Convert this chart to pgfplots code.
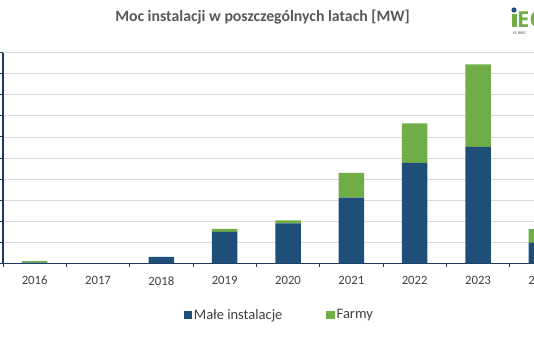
\documentclass[border=0pt]{standalone}
\usepackage{pgfplots}
\pgfplotsset{compat=1.18}
\usepackage{fontspec}
\setmainfont{Carlito}
\newfontfamily\logofont{Open Sans}
\definecolor{navy}{HTML}{1F4E79}
\definecolor{axnavy}{HTML}{1F3A5F}
\definecolor{grn}{HTML}{70AD47}
\definecolor{gridc}{HTML}{D9D9D9}
\definecolor{titc}{HTML}{595959}
\definecolor{labc}{HTML}{404040}
\pgfplotstableread{
idx male farmy
0 3 7
1 0 0
2 30 0
3 149 14
4 189 15
5 312 117
6 477 187
7 553 392
8 97 65
}\datatab
\begin{document}
\begin{tikzpicture}[x=1pt,y=1pt]
\path[use as bounding box, clip] (0,0) rectangle (534,351);
\fill[white] (0,0) rectangle (534,351);
\begin{axis}[
  at={(3pt,87.7pt)}, anchor=south west,
  scale only axis, width=570pt, height=210.6pt,
  ybar stacked, bar width=25.5pt,
  xmin=-0.5, xmax=8.5, ymin=0, ymax=1000,
  xtick={-0.5,0.5,...,8.5},
  x tick label as interval,
  xticklabels={2016,2017,2018,2019,2020,2021,2022,2023,2024},
  ytick={0,100,...,1000}, yticklabels={},
  ymajorgrids, grid style={gridc, line width=0.8pt},
  axis x line*=bottom, axis y line*=left,
  axis line style={axnavy, line width=1.6pt, -},
  tick style={axnavy, line width=0.9pt},
  tick align=outside, major tick length=3.5pt,
  x tick label style={font=\fontsize{12.7}{14}\selectfont, text=labc, yshift=-6pt},
  /pgf/number format/assume math mode=true,
  legend style={at={(0.4846,-0.2455)}, anchor=center, draw=none, fill=none,
    legend columns=2, font=\fontsize{14.5}{16}\selectfont, text=labc,
    /tikz/every even column/.append style={column sep=42pt}},
  legend image code/.code={\fill[#1] (0pt,-4.1pt) rectangle (8.3pt,4.1pt);},
  legend cell align=left,
]
\addplot[fill=navy, draw=none] table[x=idx,y=male]{\datatab};
\addplot[fill=grn, draw=none] table[x=idx,y=farmy]{\datatab};
\legend{Małe instalacje, Farmy}
\end{axis}
\node[text=titc, font=\bfseries\fontsize{15.8}{18}\selectfont] at (262.5,334.3) {Moc instalacji w poszczególnych latach [MW]};
% logo
\fill[grn] (511.5,324) rectangle (516.5,336.5);
\fill[navy] (514,341) circle (2.6);
\node[anchor=west, inner sep=0pt, text=grn, font=\logofont\bfseries\fontsize{22}{22}\selectfont] at (517,331) {EO};
\node[anchor=west, inner sep=0pt, text=titc, font=\fontsize{4}{4}\selectfont] at (513,318) {EC BREC};
\end{tikzpicture}
\end{document}
